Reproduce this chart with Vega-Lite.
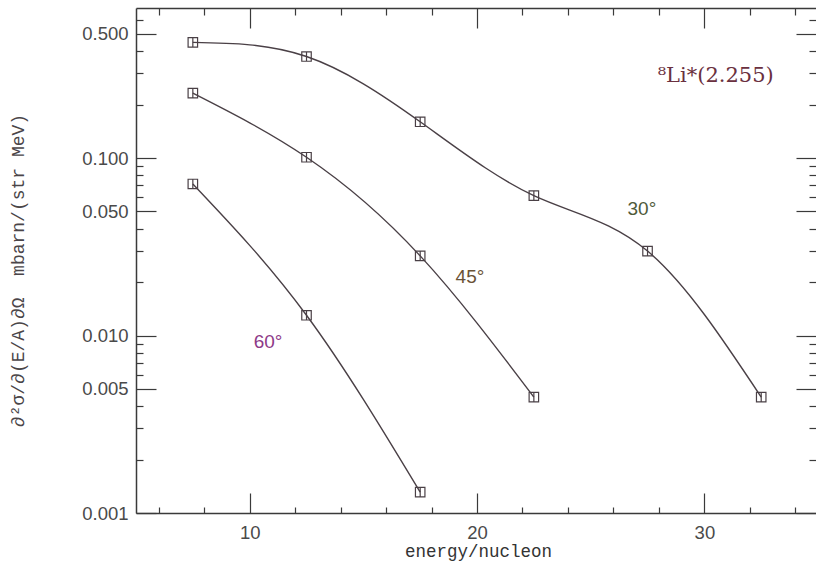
{
  "$schema": "https://vega.github.io/schema/vega-lite/v6.json",
  "width": 680,
  "height": 505,
  "autosize": {"type": "none"},
  "padding": {"left": 136, "top": 8, "right": 0, "bottom": 53},
  "background": "white",
  "config": {"view": {"stroke": null}, "axis": {"grid": false, "tickColor": "#3a3a3a", "tickWidth": 1.2, "domainColor": "#3a3a3a", "domainWidth": 1.5, "title": null}},
  "datasets": {
    "curves": [
      {"angle": "30°", "energy": 7.5, "xs": 0.448},
      {"angle": "30°", "energy": 12.5, "xs": 0.373},
      {"angle": "30°", "energy": 17.5, "xs": 0.160},
      {"angle": "30°", "energy": 22.5, "xs": 0.0614},
      {"angle": "30°", "energy": 27.5, "xs": 0.0299},
      {"angle": "30°", "energy": 32.5, "xs": 0.0045},
      {"angle": "45°", "energy": 7.5, "xs": 0.232},
      {"angle": "45°", "energy": 12.5, "xs": 0.101},
      {"angle": "45°", "energy": 17.5, "xs": 0.0281},
      {"angle": "45°", "energy": 22.5, "xs": 0.0045},
      {"angle": "60°", "energy": 7.5, "xs": 0.0714},
      {"angle": "60°", "energy": 12.5, "xs": 0.0130},
      {"angle": "60°", "energy": 17.5, "xs": 0.00131}
    ],
    "angles": [
      {"label": "30°", "energy": 27.25, "xs": 0.0514},
      {"label": "45°", "energy": 19.69, "xs": 0.0214},
      {"label": "60°", "energy": 10.81, "xs": 0.00917}
    ],
    "species": [
      {"label": "⁸Li*(2.255)", "energy": 30.5, "xs": 0.29}
    ]
  },
  "layer": [
    {
      "data": {"name": "curves"},
      "mark": {"type": "line", "interpolate": "natural", "color": "#4a4046", "strokeWidth": 1.4},
      "encoding": {
        "detail": {"field": "angle"},
        "x": {
          "field": "energy", "type": "quantitative",
          "scale": {"domain": [5, 34.91], "nice": false, "zero": false},
          "axis": {
            "orient": "bottom",
            "values": [10, 20, 30],
            "tickSize": -20,
            "domain": true,
            "labelFont": "Liberation Sans", "labelFontSize": 18.5, "labelColor": "#4a4a4a",
            "labelPadding": 30, "labelFlush": false, "labelOverlap": false,
            "title": "energy/nucleon",
            "titleFont": "Liberation Mono", "titleFontSize": 17.5, "titleFontWeight": "normal",
            "titleColor": "#333333", "titleX": 342, "titleY": 38, "titleBaseline": "middle", "titleAlign": "center"
          }
        },
        "y": {
          "field": "xs", "type": "quantitative",
          "scale": {"type": "log", "domain": [0.001, 0.7], "nice": false},
          "axis": {
            "orient": "left",
            "values": [0.001, 0.005, 0.01, 0.05, 0.1, 0.5],
            "format": ".3f",
            "tickSize": -20,
            "domain": true,
            "labelFont": "Liberation Sans", "labelFontSize": 18.5, "labelColor": "#4a4a4a",
            "labelPadding": 28, "labelFlush": false, "labelOverlap": false,
            "title": "∂²σ/∂(E/A)∂Ω\u00a0\u00a0mbarn/(str MeV)",
            "titleFont": "Liberation Mono", "titleFontSize": 18, "titleFontWeight": "normal",
            "titleColor": "#4a4548", "titleX": -118, "titleY": 262, "titleBaseline": "middle", "titleAlign": "center", "titleAngle": -90
          }
        }
      }
    },
    {
      "data": {"name": "curves"},
      "mark": {"type": "point", "shape": "M-1,-1L1,-1L1,1L-1,1Z M0,-1L0,1", "size": 90, "filled": false, "color": "#4a4046", "strokeWidth": 1.2, "opacity": 1},
      "encoding": {
        "x": {
          "field": "energy", "type": "quantitative",
          "axis": {"orient": "bottom", "values": [6, 8, 12, 14, 16, 18, 22, 24, 26, 28, 32, 34], "tickSize": -6, "labels": false, "domain": false}
        },
        "y": {
          "field": "xs", "type": "quantitative",
          "axis": {"orient": "left", "values": [0.002, 0.003, 0.004, 0.006, 0.007, 0.008, 0.009, 0.02, 0.03, 0.04, 0.06, 0.07, 0.08, 0.09, 0.2, 0.3, 0.4, 0.6], "tickSize": -7, "labels": false, "domain": false}
        }
      }
    },
    {
      "data": {"name": "angles"},
      "mark": {"type": "text", "font": "Liberation Sans", "fontSize": 19, "align": "center", "baseline": "middle"},
      "encoding": {
        "x": {
          "field": "energy", "type": "quantitative",
          "axis": {"orient": "top", "values": [10, 20, 30], "tickSize": -20, "labels": false, "domain": true}
        },
        "y": {
          "field": "xs", "type": "quantitative",
          "axis": {"orient": "right", "values": [0.001, 0.005, 0.01, 0.05, 0.1, 0.5], "tickSize": -20, "labels": false, "domain": false}
        },
        "text": {"field": "label"},
        "color": {
          "field": "label", "type": "nominal", "legend": null,
          "scale": {"domain": ["30°", "45°", "60°"], "range": ["#4f5a3a", "#6a5236", "#8e3a88"]}
        }
      }
    },
    {
      "data": {"name": "species"},
      "mark": {"type": "text", "font": "DejaVu Serif", "fontSize": 21, "align": "center", "baseline": "middle", "color": "#6a3040"},
      "encoding": {
        "x": {
          "field": "energy", "type": "quantitative",
          "axis": {"orient": "top", "values": [6, 8, 12, 14, 16, 18, 22, 24, 26, 28, 32, 34], "tickSize": -7, "labels": false, "domain": false}
        },
        "y": {
          "field": "xs", "type": "quantitative",
          "axis": {"orient": "right", "values": [0.002, 0.003, 0.004, 0.006, 0.007, 0.008, 0.009, 0.02, 0.03, 0.04, 0.06, 0.07, 0.08, 0.09, 0.2, 0.3, 0.4, 0.6], "tickSize": -7, "labels": false, "domain": false}
        },
        "text": {"field": "label"}
      }
    }
  ],
  "resolve": {"axis": {"x": "independent", "y": "independent"}}
}
